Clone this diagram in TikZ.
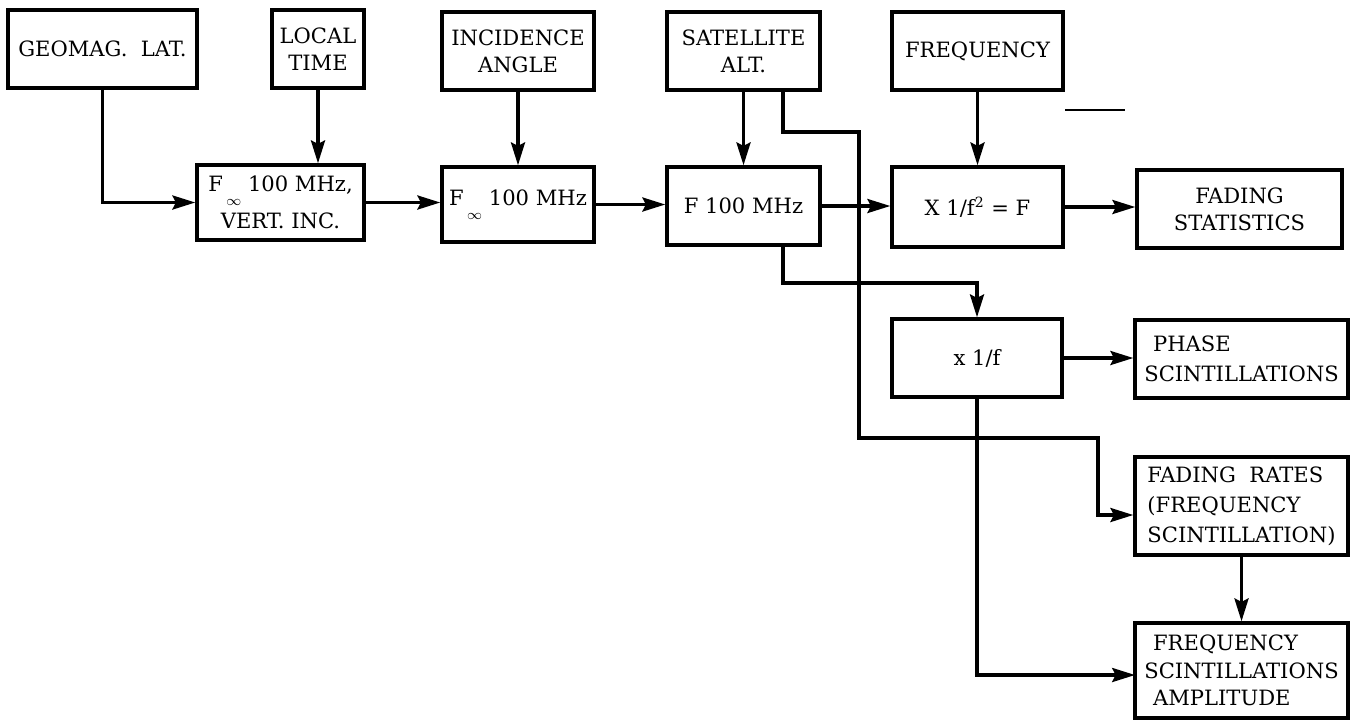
\documentclass[tikz,border=0pt]{standalone}
\usepackage{fontspec}
\setmainfont{DejaVu Serif}
\usetikzlibrary{arrows.meta,positioning,calc}
\newcommand{\Finf}{F\,\raisebox{-1.3ex}{$\scriptstyle\infty$}}

\begin{document}
\begin{tikzpicture}[x=0.02cm,y=-0.02cm,
  blk/.style={draw,line width=2pt,align=center,inner sep=1pt,font=\fontsize{12}{15.5}\selectfont},
  lblk/.style={blk,align=left,inner sep=0pt,font=\fontsize{12}{17}\selectfont},
  flow/.style={line width=1.8pt,-{Stealth[length=13pt,width=8pt,inset=2pt]}}]
  \useasboundingbox (0,0) rectangle (1354,721);

  % Top row: input parameters
  \node[blk,minimum width=3.78cm,minimum height=1.56cm] (geo) at (102.5,49) {GEOMAG.~~LAT.};
  \node[blk,minimum width=1.84cm,minimum height=1.56cm] (loc) at (318,49) {LOCAL\\TIME};
  \node[blk,minimum width=3.04cm,minimum height=1.56cm] (inc) at (518,51) {INCIDENCE\\ANGLE};
  \node[blk,minimum width=3.06cm,minimum height=1.56cm] (sat) at (743.5,51) {SATELLITE\\ALT.};
  \node[blk,minimum width=3.42cm,minimum height=1.56cm] (frq) at (977.5,51) {FREQUENCY};

  % Second row: scaling chain
  \node[blk,minimum width=3.34cm,minimum height=1.5cm,font=\fontsize{12}{21}\selectfont] (vf) at (280.5,202.5) {\Finf\ 100 MHz,\\VERT. INC.};
  \node[blk,minimum width=3.04cm,minimum height=1.5cm] (finf) at (518,204.5) {\Finf\ 100 MHz};
  \node[blk,minimum width=3.06cm,minimum height=1.56cm] (f100) at (743.5,206) {F 100 MHz};
  \node[blk,minimum width=3.42cm,minimum height=1.6cm] (xf2) at (977.5,207) {X 1/f\textsuperscript{2} = F};
  \node[blk,minimum width=4.1cm,minimum height=1.56cm] (fst) at (1239.5,209) {FADING\\STATISTICS};

  % Lower part: outputs
  \node[blk,minimum width=3.4cm,minimum height=1.56cm] (xf) at (977,358) {x 1/f};
  \node[lblk,minimum width=4.26cm,minimum height=1.56cm] (pha) at (1241.5,359) {\hspace*{5pt}PHASE\\SCINTILLATIONS};
  \node[lblk,minimum width=4.26cm,minimum height=1.96cm] (fr) at (1241.5,506) {FADING~~RATES\\(FREQUENCY\\SCINTILLATION)};
  \node[lblk,minimum width=4.26cm,minimum height=1.9cm,font=\fontsize{12}{15.5}\selectfont] (fsa) at (1241.5,670.5) {\hspace*{5pt}FREQUENCY\\SCINTILLATIONS\\\hspace*{5pt}AMPLITUDE};

  \coordinate (fb) at (783,283);
  \coordinate (s1) at (783,132);
  \coordinate (s2) at (859,438);
  \coordinate (s3) at (1098,515);
  \coordinate (fa) at (1135,675);

  \draw[flow] (geo.south) |- (vf.west);
  \draw[flow] (loc.south) -- (loc.south |- vf.north);
  \draw[flow] (vf.east) -- (vf.east -| finf.west);
  \draw[flow] (inc) -- (finf);
  \draw[flow] (finf.east) -- (finf.east -| f100.west);
  \draw[flow] (sat) -- (f100);
  \draw[flow] (f100.east) -- (f100.east -| xf2.west);
  \draw[flow] (frq) -- (xf2);
  \draw[flow] (xf2.east) -- (xf2.east -| fst.west);
  \draw[flow] (f100.south -| fb) -- (fb) -| (xf.north);
  \draw[flow] (sat.south -| s1) -- (s1) -| (s2) -| (s3) -- (s3 -| fr.west);
  \draw[flow] (xf.east) -- (xf.east -| pha.west);
  \draw[flow] (xf.south) -- (xf.south |- fa) -- (fa);
  \draw[flow] (fr) -- (fsa);

  \draw[line width=0.8pt] (1065,110) -- (1125,110);
\end{tikzpicture}
\end{document}
